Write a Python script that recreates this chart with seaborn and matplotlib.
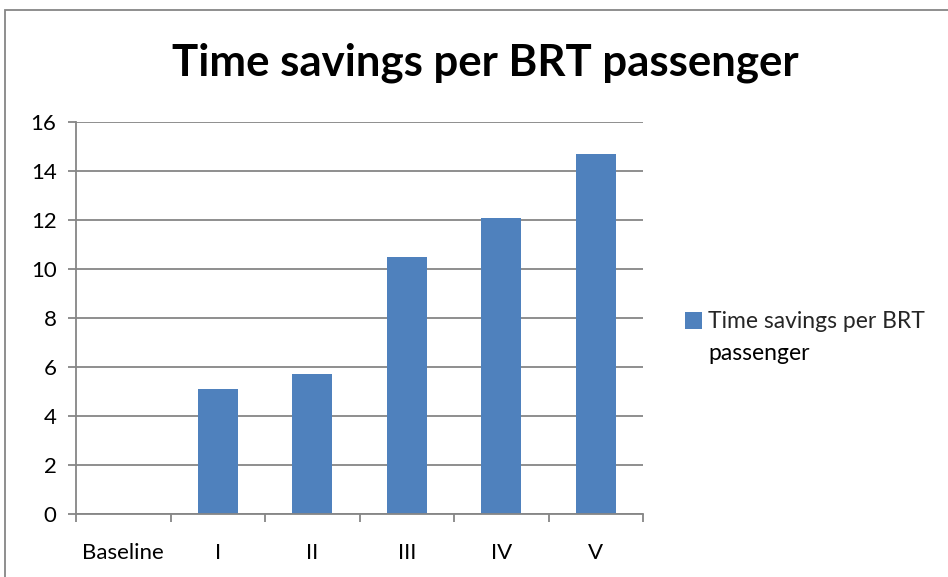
import matplotlib
matplotlib.use("Agg")
import matplotlib.pyplot as plt
import seaborn as sns
import pandas as pd
from matplotlib.patches import Rectangle
from matplotlib.ticker import FixedLocator

categories = ["Baseline", "I", "II", "III", "IV", "V"]
values = [0, 5.1, 5.7, 10.5, 12.1, 14.7]
series_name = "Time savings per BRT passenger"
title = "Time savings per BRT passenger"
yticks = [0, 2, 4, 6, 8, 10, 12, 14, 16]

sns.set_theme(style="white")
plt.rcParams['font.family'] = ['Lato', 'DejaVu Sans']

df = pd.DataFrame({"cat": categories, "val": values})

W, H = 948, 577
fig = plt.figure(figsize=(W / 100, H / 100), dpi=100)
ax = fig.add_axes([76 / W, 1 - 514 / H, (643 - 76) / W, (514 - 122) / H])

sns.barplot(data=df, x="cat", y="val", color="#4F81BD", width=0.42,
            saturation=1, ax=ax, label=series_name, linewidth=0)

grey = "#868686"
ax.set_xlim(-0.5, 5.5)
ax.set_ylim(0, 16)
ax.set_yticks(yticks)
ax.set_yticklabels([str(v) for v in yticks], fontsize=16, color="black")
ax.yaxis.grid(True, color=grey, linewidth=1.3)
ax.set_axisbelow(True)
ax.set_xlabel("")
ax.set_ylabel("")
ax.set_xticks(range(len(categories)))
ax.set_xticklabels(categories, fontsize=16, color="black")
ax.xaxis.set_minor_locator(FixedLocator([i - 0.5 for i in range(len(categories) + 1)]))
ax.tick_params(axis="x", which="major", length=0, pad=21)
ax.tick_params(axis="x", which="minor", length=6, width=1.3, color=grey, direction="out", bottom=True)
ax.tick_params(axis="y", which="major", length=6, width=1.3, color=grey, direction="out", left=True, pad=8)
for s in ["top", "right"]:
    ax.spines[s].set_visible(False)
for s in ["left", "bottom"]:
    ax.spines[s].set_color(grey)
    ax.spines[s].set_linewidth(1.3)

fig.text(485 / W, 1 - 63 / H, title, ha="center", va="center",
         fontsize=31.5, fontweight="bold", color="black")

leg = ax.legend(loc="center left", bbox_to_anchor=(685 / W, 1 - 322 / H),
                bbox_transform=fig.transFigure, frameon=False, fontsize=16.5,
                handlelength=0.75, handleheight=0.75, handletextpad=0.25,
                borderaxespad=0, borderpad=0)
leg.texts[0].set_text("Time savings per BRT")
fig.text(708 / W, 1 - 354 / H, "passenger", ha="left", va="center",
         fontsize=16.5, color="black")

fig.patches.append(Rectangle((5 / W, -0.1), 1.2, 1 - 10 / H + 0.1,
                             transform=fig.transFigure, fill=False,
                             edgecolor=grey, linewidth=1.3))

fig.savefig("out.png", dpi=100)
